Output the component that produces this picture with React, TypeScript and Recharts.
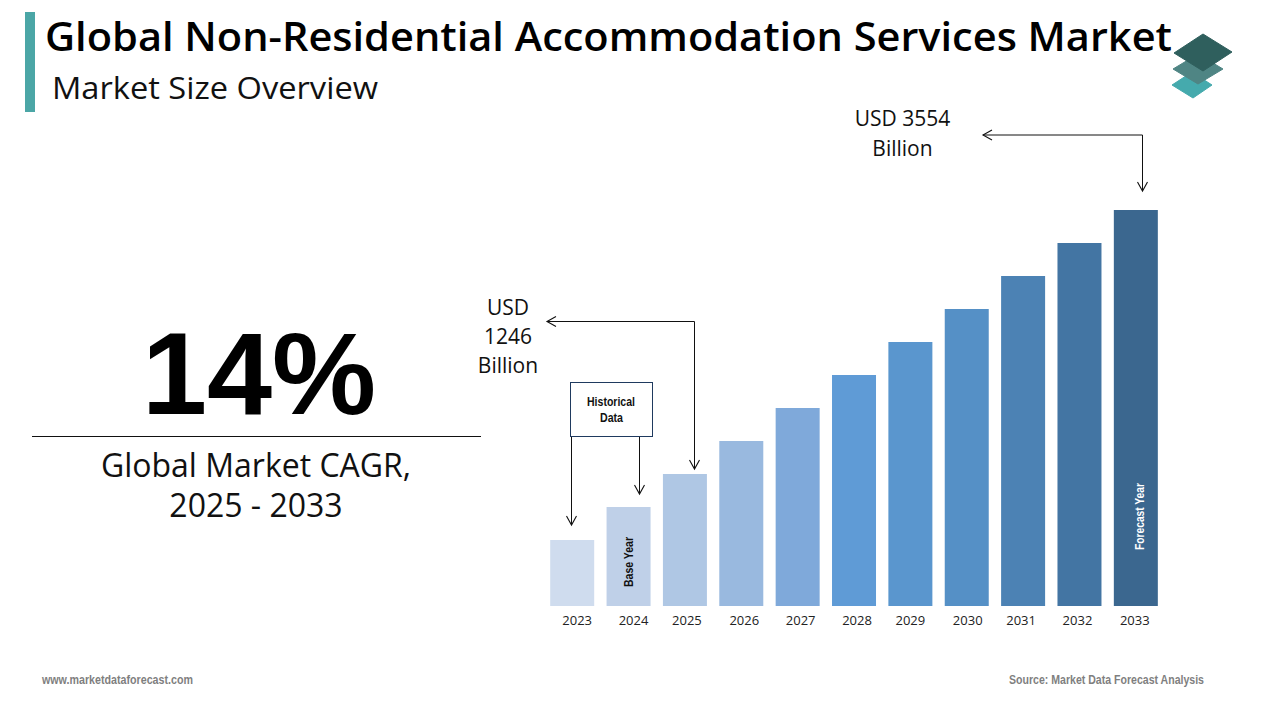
import React from 'react';
import { BarChart, Bar, XAxis, YAxis, Cell } from 'recharts';

const years = ['2023', '2024', '2025', '2026', '2027', '2028', '2029', '2030', '2031', '2032', '2033'];
const marketIndex = [66, 99, 132, 165, 198, 231, 264, 297, 330, 363, 396];
const barColors = ['#CFDCEE', '#BFD0E8', '#AFC7E4', '#99B9DF', '#7FA9DA', '#5F9BD6', '#5A96CE', '#5590C6', '#4C82B4', '#4375A3', '#3B678F'];
const tickShift = [5, 5, 2, 3, 3, 3, 0, 1, -2, -2, -1];
const rows = years.map((year, i) => ({ year, value: marketIndex[i] }));

const SANS = '"Open Sans", "Noto Sans", sans-serif';
const NARROW = '"Liberation Sans Narrow", "Liberation Sans", sans-serif';

const YearTick = (props: any) => {
  const { x, y, payload, index } = props;
  return (
    <text x={x + tickShift[index]} y={y + 11} textAnchor="middle" fontFamily={SANS} fontSize={13} fill="#222">
      {payload.value}
    </text>
  );
};

const Head = ({ x, y, dir }: { x: number; y: number; dir: 'left' | 'down' }) => (
  <polyline
    points={dir === 'left' ? `${x + 9},${y - 5} ${x},${y} ${x + 9},${y + 5}` : `${x - 5},${y - 9} ${x},${y} ${x + 5},${y - 9}`}
    fill="none"
    stroke="#111"
    strokeWidth={1.1}
  />
);

export default function App() {
  return (
    <div style={{ position: 'absolute', left: 0, top: 0, width: 1280, height: 720, background: '#fff', overflow: 'hidden' }}>
      <div style={{ position: 'absolute', left: 0, top: 0 }}>
        <BarChart width={1280} height={720} data={rows} margin={{ top: 210, right: 116, bottom: 84, left: 544 }} barCategoryGap="11%">
          <XAxis dataKey="year" axisLine={false} tickLine={false} height={30} interval={0} tick={<YearTick />} />
          <YAxis hide domain={[0, 396]} />
          <Bar dataKey="value" isAnimationActive={false}>
            {rows.map((r, i) => (
              <Cell key={r.year} fill={barColors[i]} />
            ))}
          </Bar>
        </BarChart>
      </div>
      <svg width={1280} height={720} style={{ position: 'absolute', left: 0, top: 0 }}>
        <rect x={25} y={12} width={10} height={100} fill="#4BA6A6" />
        <text x={45} y={51} fontFamily={SANS} fontWeight={600} fontSize={40} fill="#000" textLength={1127} lengthAdjust="spacingAndGlyphs">
          Global Non-Residential Accommodation Services Market
        </text>
        <text x={52} y={99} fontFamily={SANS} fontSize={31} fill="#111" textLength={326} lengthAdjust="spacingAndGlyphs">
          Market Size Overview
        </text>

        <polygon points="1172,85 1192,72 1212,85 1193,98" fill="#45AAAD" stroke="#45AAAD" strokeWidth={1} strokeLinejoin="round" />
        <polygon points="1173,69 1198,54 1223,69 1198,84" fill="#4F8584" stroke="#4F8584" strokeWidth={1} strokeLinejoin="round" />
        <polygon points="1174,53 1203,34 1232,52 1203,71" fill="#2F5F5D" stroke="#2F5F5D" strokeWidth={1} strokeLinejoin="round" />

        <text x={259} y={414} textAnchor="middle" fontFamily={'"Liberation Sans", sans-serif'} fontWeight={700} fontSize={117} fill="#000">14%</text>
        <line x1={32} y1={436.5} x2={481} y2={436.5} stroke="#111" strokeWidth={1} />
        <text x={256} y={477} textAnchor="middle" fontFamily={SANS} fontSize={32} fill="#111">Global Market CAGR,</text>
        <text x={256} y={517} textAnchor="middle" fontFamily={SANS} fontSize={32} fill="#111">2025 - 2033</text>

        <text x={902.5} y={126} textAnchor="middle" fontFamily={SANS} fontSize={21} fill="#111">USD 3554</text>
        <text x={902.5} y={155.5} textAnchor="middle" fontFamily={SANS} fontSize={21} fill="#111">Billion</text>
        <text x={508} y={315} textAnchor="middle" fontFamily={SANS} fontSize={21} fill="#111">USD</text>
        <text x={508} y={344} textAnchor="middle" fontFamily={SANS} fontSize={21} fill="#111">1246</text>
        <text x={508} y={373} textAnchor="middle" fontFamily={SANS} fontSize={21} fill="#111">Billion</text>

        <polyline points="983,135 1142.5,135 1142.5,191" fill="none" stroke="#111" strokeWidth={1} />
        <Head x={983} y={135} dir="left" />
        <Head x={1142.5} y={191} dir="down" />
        <polyline points="547,321.5 694.5,321.5 694.5,469" fill="none" stroke="#111" strokeWidth={1} />
        <Head x={547} y={321.5} dir="left" />
        <Head x={694.5} y={469} dir="down" />

        <rect x={570.5} y={382.5} width={82} height={54} fill="#fff" stroke="#1F3A5F" strokeWidth={1} />
        <text x={587} y={406} fontFamily={NARROW} fontWeight={700} fontSize={12} fill="#111" textLength={48} lengthAdjust="spacingAndGlyphs">Historical</text>
        <text x={600} y={422} fontFamily={NARROW} fontWeight={700} fontSize={12} fill="#111" textLength={23} lengthAdjust="spacingAndGlyphs">Data</text>
        <line x1={571.5} y1={437} x2={571.5} y2={525} stroke="#111" strokeWidth={1} />
        <Head x={571.5} y={525} dir="down" />
        <line x1={639.5} y1={437} x2={639.5} y2={494} stroke="#111" strokeWidth={1} />
        <Head x={639.5} y={494} dir="down" />

        <text transform="translate(633,587) rotate(-90)" fontFamily={NARROW} fontWeight={700} fontSize={12} fill="#111" textLength={50} lengthAdjust="spacingAndGlyphs">Base Year</text>
        <text transform="translate(1144,550) rotate(-90)" fontFamily={NARROW} fontWeight={700} fontSize={12} fill="#fff" textLength={67} lengthAdjust="spacingAndGlyphs">Forecast Year</text>

        <text x={42} y={684} fontFamily={NARROW} fontWeight={700} fontSize={12} fill="#7F7F7F" textLength={151} lengthAdjust="spacingAndGlyphs">www.marketdataforecast.com</text>
        <text x={1009} y={684} fontFamily={NARROW} fontWeight={700} fontSize={12} fill="#7F7F7F" textLength={195} lengthAdjust="spacingAndGlyphs">Source: Market Data Forecast Analysis</text>
      </svg>
    </div>
  );
}
